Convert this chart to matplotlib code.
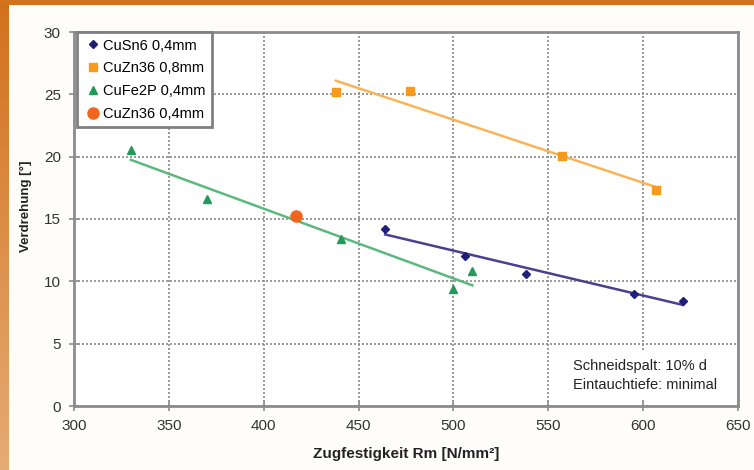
import numpy as np
import matplotlib
matplotlib.use("Agg")
import matplotlib.pyplot as plt

plt.rcParams['font.family'] = ['Liberation Sans', 'DejaVu Sans']

# data
cusn6_x = [464, 506, 538, 595, 621]
cusn6_y = [14.2, 12.05, 10.55, 9.0, 8.45]
cuzn36_08_x = [438, 477, 557, 607]
cuzn36_08_y = [25.2, 25.3, 20.05, 17.3]
cufe2p_x = [330, 370, 441, 500, 510]
cufe2p_y = [20.55, 16.6, 13.4, 9.35, 10.8]
cuzn36_04_x = [417]
cuzn36_04_y = [15.25]

xticks = [300, 350, 400, 450, 500, 550, 600, 650]
yticks = [0, 5, 10, 15, 20, 25, 30]

fig = plt.figure(figsize=(7.54, 4.70), dpi=100)
fig.patch.set_facecolor('#fefdfa')

# orange frame at left and top
grad = np.linspace(0, 1, 256).reshape(-1, 1)
cmap = matplotlib.colors.LinearSegmentedColormap.from_list('o', ['#d2711c', '#e6ab74'])
bax = fig.add_axes([0, 0, 9 / 754, 1])
bax.imshow(grad, aspect='auto', cmap=cmap)
bax.axis('off')
tax = fig.add_axes([0, 1 - 5 / 470, 1, 5 / 470])
tax.set_facecolor('#d2731e')
tax.set_xticks([]); tax.set_yticks([])
for s in tax.spines.values():
    s.set_visible(False)

ax = fig.add_axes([74 / 754, 1 - 406 / 470, (738 - 74) / 754, (406 - 32) / 470])
ax.set_facecolor('white')

def trend(x, y, color):
    k, d = np.polyfit(x, y, 1)
    xs = np.array([min(x), max(x)])
    ax.plot(xs, k * xs + d, color=color, lw=1.8, zorder=2)

trend(cusn6_x, cusn6_y, '#4b3f8e')
trend(cuzn36_08_x, cuzn36_08_y, '#f8b457')
trend(cufe2p_x, cufe2p_y, '#5cb97d')

ax.plot(cusn6_x, cusn6_y, 'D', color='#1e1f78', ms=4.5, ls='none', label='CuSn6 0,4mm', zorder=3)
ax.plot(cuzn36_08_x, cuzn36_08_y, 's', color='#f59a1c', ms=5.5, ls='none', label='CuZn36 0,8mm', zorder=3)
ax.plot(cufe2p_x, cufe2p_y, '^', color='#23995a', ms=6, ls='none', label='CuFe2P 0,4mm', zorder=3)
ax.plot(cuzn36_04_x, cuzn36_04_y, 'o', color='#f0661e', ms=8, ls='none', label='CuZn36 0,4mm', zorder=3)

ax.set_xlim(300, 650)
ax.set_ylim(0, 30)
ax.set_xticks(xticks)
ax.set_yticks(yticks)
ax.grid(True, ls=(0, (1.2, 1.2)), color='#8a8a8a', lw=1.2)
ax.set_axisbelow(True)
for s in ax.spines.values():
    s.set_color('#8c8c8c')
    s.set_linewidth(2)
ax.tick_params(direction='inout', length=7, width=1.2, color='#8c8c8c',
               labelsize=11, labelcolor='#333333', pad=6)

ax.set_xlabel('Zugfestigkeit Rm [N/mm²]', fontsize=11, fontweight='bold', color='#222222', labelpad=10)
ax.set_ylabel('Verdrehung [°]', fontsize=9.5, fontweight='bold', color='#222222')
ax.yaxis.set_label_coords(-0.063, 0.535)

leg = ax.legend(loc='upper left', bbox_to_anchor=(0.005, 1.0), fontsize=10.5, frameon=True,
                fancybox=False, borderpad=0.45, labelspacing=0.6, handletextpad=0.1,
                handlelength=1.2, borderaxespad=0.0, framealpha=1)
leg.get_frame().set_edgecolor('#808080')
leg.get_frame().set_linewidth(2)

ax.text(0.752, 0.038, 'Schneidspalt: 10% d\nEintauchtiefe: minimal', transform=ax.transAxes,
        fontsize=10.5, color='#222222', linespacing=1.45, va='bottom', ha='left', zorder=4,
        bbox=dict(facecolor='white', edgecolor='none', pad=6))

fig.savefig('out.png', dpi=100, facecolor=fig.get_facecolor())
